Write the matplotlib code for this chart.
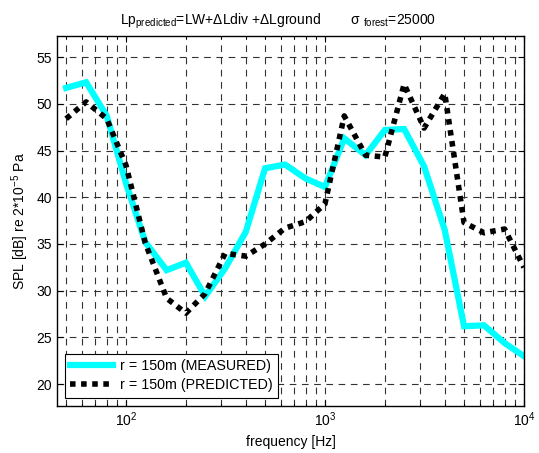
import matplotlib
matplotlib.use("Agg")
import matplotlib.pyplot as plt
from matplotlib.ticker import LogLocator, NullFormatter, FixedLocator

plt.rcParams['font.family'] = ['Liberation Sans', 'DejaVu Sans']
plt.rcParams['mathtext.fontset'] = 'custom'
plt.rcParams['mathtext.rm'] = 'Liberation Sans'
plt.rcParams['mathtext.it'] = 'Liberation Sans:italic'
plt.rcParams['mathtext.default'] = 'regular'

freq = [50, 63, 80, 100, 125, 160, 200, 250, 315, 400, 500, 630, 800, 1000,
        1250, 1600, 2000, 2500, 3150, 4000, 5000, 6300, 8000, 10000]
measured = [51.7, 52.3, 48.7, 41.5, 35.2, 32.2, 33.0, 29.4, 32.4, 36.3, 43.1, 43.5,
            42.0, 41.1, 46.3, 44.5, 47.2, 47.3, 43.3, 36.5, 26.2, 26.3, 24.4, 23.0]
predicted = [48.4, 50.2, 48.4, 43.4, 35.1, 29.2, 27.6, 29.7, 34.0, 33.7, 35.0, 36.7,
             37.4, 39.3, 48.7, 44.5, 44.3, 52.1, 47.4, 51.1, 37.3, 36.2, 36.6, 32.5]
labels = ['r = 150m (MEASURED)', 'r = 150m (PREDICTED)']
yticks = [20, 25, 30, 35, 40, 45, 50, 55]

fs = 10
fig = plt.figure(figsize=(5.39, 4.53), dpi=100)
ax = fig.add_axes([0.1058, 0.1044, 0.972 - 0.1058, 0.9205 - 0.1044])

ax.plot(freq, measured, color='#00FFFF', lw=4.5, label=labels[0], solid_joinstyle='miter')
ax.plot(freq, predicted, color='black', lw=4, linestyle=(0, (1, 1)),
        dash_capstyle='butt', label=labels[1])

ax.set_xscale('log')
ax.set_xlim(45, 10000)
ax.set_ylim(17.7, 57.25)
ax.set_yticks(yticks)
ax.xaxis.set_major_locator(FixedLocator([100, 1000, 10000]))
ax.xaxis.set_minor_locator(LogLocator(base=10, subs=range(2, 10), numticks=20))
ax.xaxis.set_minor_formatter(NullFormatter())

ax.grid(True, which='both', axis='x', color='0.2', lw=0.8, linestyle=(0, (6, 5)))
ax.grid(True, which='major', axis='y', color='0.2', lw=0.8, linestyle=(0, (6, 5)))
ax.tick_params(which='both', direction='in', top=True, right=True, labelsize=fs)
ax.tick_params(which='major', length=4)
ax.tick_params(which='minor', length=2.5)
for s in ax.spines.values():
    s.set_linewidth(1.0)

ax.set_xlabel('frequency [Hz]', fontsize=fs)
ax.set_ylabel('SPL [dB] re 2*10$^{-5}$ Pa', fontsize=fs)
ax.set_title('Lp$_{predicted}$=LW+ΔLdiv +ΔLground        σ $_{forest}$=25000',
             fontsize=fs, pad=8, x=0.474)

leg = ax.legend(loc='lower left', fontsize=fs + 0.3, handlelength=3.0, frameon=True,
                fancybox=False, borderaxespad=0.55, handletextpad=0.45,
                borderpad=0.38, labelspacing=0.38)
leg.get_frame().set_edgecolor('black')
leg.get_frame().set_linewidth(0.8)
leg.get_frame().set_alpha(1)

fig.savefig('out.png', dpi=100)
